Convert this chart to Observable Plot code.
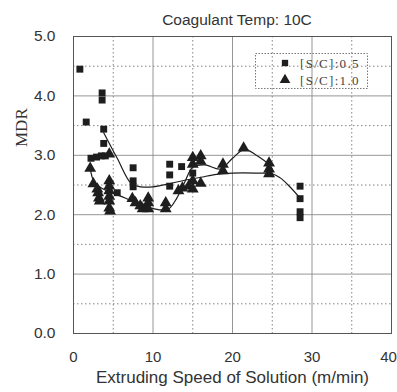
<!DOCTYPE html>
<html>
<head>
<meta charset="utf-8">
<script src="https://cdn.jsdelivr.net/npm/d3@7"></script>
<script src="https://cdn.jsdelivr.net/npm/@observablehq/plot@0.6"></script>
<style>
  body { margin: 0; background: #fff; }
  #wrap { position: relative; width: 397px; height: 392px; overflow: hidden; }
  #title { position: absolute; left: 77px; width: 320px; top: 10px; text-align: center;
           font: 15.5px "Liberation Sans", Arial, sans-serif; color: #333; line-height: 19px; }
  #chart { position: absolute; left: 0; top: 28px; }
  #legend { position: absolute; left: 254px; top: 52px; }
</style>
</head>
<body>
<div id="wrap">
  <div id="chart"></div>
  <div id="title">Coagulant Temp: 10C</div>
  <svg id="legend" width="116" height="39"></svg>
</div>
<script>
// MDR measurements, [S/C] = 0.5 (squares): [speed m/min, MDR]
const squares05 = [
  [0.8, 4.45], [1.6, 3.56], [3.6, 4.05], [3.6, 3.93], [3.8, 3.44], [3.8, 3.2],
  [2.2, 2.95], [2.9, 2.97], [3.5, 2.99], [4.0, 2.99], [5.5, 2.37],
  [7.5, 2.79], [7.5, 2.57], [7.5, 2.47], [12.1, 2.85], [13.6, 2.81],
  [12.1, 2.67], [12.1, 2.48], [15.0, 2.7],
  [28.5, 2.48], [28.5, 2.27], [28.5, 2.05], [28.5, 1.95]
];

// MDR measurements, [S/C] = 1.0 (triangles)
const triangles10 = [
  [2.1, 2.78], [2.5, 2.52], [3.0, 2.43], [3.1, 2.37], [3.2, 2.28], [3.3, 2.23],
  [4.5, 3.02], [4.5, 2.57], [4.5, 2.48], [4.5, 2.4], [4.5, 2.31], [4.5, 2.23],
  [4.5, 2.11], [4.6, 2.06],
  [7.4, 2.27], [7.8, 2.2], [8.4, 2.15], [8.7, 2.1],
  [9.4, 2.28], [9.4, 2.2], [9.4, 2.1], [11.6, 2.2], [11.6, 2.1],
  [13.2, 2.4], [13.7, 2.45], [14.5, 2.48], [15.0, 2.43], [15.0, 2.57],
  [15.0, 2.85], [15.0, 2.96], [16.0, 2.99], [16.0, 2.9], [16.0, 2.53],
  [18.8, 2.85], [18.8, 2.74], [21.4, 3.12],
  [24.6, 2.87], [24.6, 2.77], [24.6, 2.69]
];

// Fitted trend lines
const fit05 = [
  [3.8, 3.38], [5.5, 2.95], [7.3, 2.52], [8.5, 2.47], [10, 2.47], [12, 2.52],
  [14, 2.58], [16, 2.63], [18, 2.68], [20, 2.7], [23, 2.7], [25, 2.69],
  [26, 2.62], [27, 2.5], [28.5, 2.28]
];
const fit10 = [
  [2.1, 2.78], [2.6, 2.55], [3.5, 2.45], [5, 2.36], [6.5, 2.28], [8, 2.18],
  [9.5, 2.12], [11, 2.08], [12, 2.1], [13, 2.28], [14, 2.55], [15, 2.8],
  [16.5, 2.84], [18.5, 2.77], [20, 2.95], [21.5, 3.1], [23, 3.0],
  [24.5, 2.85], [25, 2.75]
];

const xTicks = [0, 10, 20, 30];
const xLastTick = [40];
const yTicks = [0, 1, 2, 3, 4, 5];
const xMajor = [10, 20, 30];
const xMinor = [5, 15, 25, 35];
const yMajor = [1, 2, 3, 4];
const yMinor = [0.5, 1.5, 2.5, 3.5, 4.5];
const legendItems = [
  {label: "[S/C]:0.5", symbol: d3.symbolSquare, size: 40},
  {label: "[S/C]:1.0", symbol: d3.symbolTriangle, size: 50}
];

const ink = "#1e1e1e";
const gridMajor = {stroke: "#8a8a8a", strokeWidth: 0.9};
const gridMinor = {stroke: "#777", strokeWidth: 0.9, strokeDasharray: "1.5,2.5"};
const xAxisStyle = {tickSize: 0, tickPadding: 18, tickFormat: d => String(d), label: null};

const chart = Plot.plot({
  width: 397,
  height: 364,
  marginTop: 8,
  marginLeft: 73,
  marginRight: 6,
  marginBottom: 59,
  style: {fontFamily: "'Liberation Sans', Arial, sans-serif", fontSize: "15px", color: "#333", background: "#fff"},
  x: {domain: [0, 40]},
  y: {domain: [0, 5]},
  marks: [
    Plot.ruleX(xMinor, gridMinor),
    Plot.ruleY(yMinor, gridMinor),
    Plot.ruleX(xMajor, gridMajor),
    Plot.ruleY(yMajor, gridMajor),
    Plot.frame({stroke: "#555", strokeWidth: 1}),
    Plot.axisX({ticks: xTicks, ...xAxisStyle}),
    Plot.axisX({ticks: xLastTick, ...xAxisStyle, dx: -3}),
    Plot.axisY({ticks: yTicks, tickSize: 0, tickPadding: 18, tickFormat: d3.format(".1f"), label: null, fontSize: 15.5}),
    Plot.text(["Extruding Speed of Solution (m/min)"], {
      frameAnchor: "bottom", dy: 49, fontSize: 17, fill: "#333"
    }),
    Plot.text(["MDR"], {
      frameAnchor: "left", dx: -52, dy: -38, rotate: -90, fontSize: 17,
      fontFamily: "'Liberation Serif', 'Times New Roman', serif", fill: "#333"
    }),
    Plot.line(fit05, {x: d => d[0], y: d => d[1], curve: "catmull-rom", stroke: ink, strokeWidth: 1.2}),
    Plot.line(fit10, {x: d => d[0], y: d => d[1], curve: "catmull-rom", stroke: ink, strokeWidth: 1.2}),
    Plot.dot(squares05, {x: d => d[0], y: d => d[1], symbol: "square", r: 3.9, fill: ink, stroke: "none"}),
    Plot.dot(triangles10, {x: d => d[0], y: d => d[1], symbol: "triangle", r: 4.4, fill: ink, stroke: "none"})
  ]
});
document.getElementById("chart").appendChild(chart);

// Legend box inside the plot area (transparent, grid shows through)
const legend = d3.select("#legend");
legend.append("rect")
  .attr("x", 1.5).attr("y", 1.5).attr("width", 112).attr("height", 35)
  .attr("fill", "none").attr("stroke", "#777").attr("stroke-dasharray", "1.5,1.5");
legendItems.forEach((item, i) => {
  const cy = 11 + i * 17;
  legend.append("path")
    .attr("transform", `translate(31,${cy})`)
    .attr("d", d3.symbol(item.symbol, item.size)())
    .attr("fill", ink);
  legend.append("text")
    .attr("x", 46).attr("y", cy).attr("dy", "0.35em")
    .attr("font-family", "'Liberation Serif', 'Times New Roman', serif")
    .attr("font-size", 13).attr("letter-spacing", 1.3).attr("fill", "#444")
    .text(item.label);
});
</script>
</body>
</html>
